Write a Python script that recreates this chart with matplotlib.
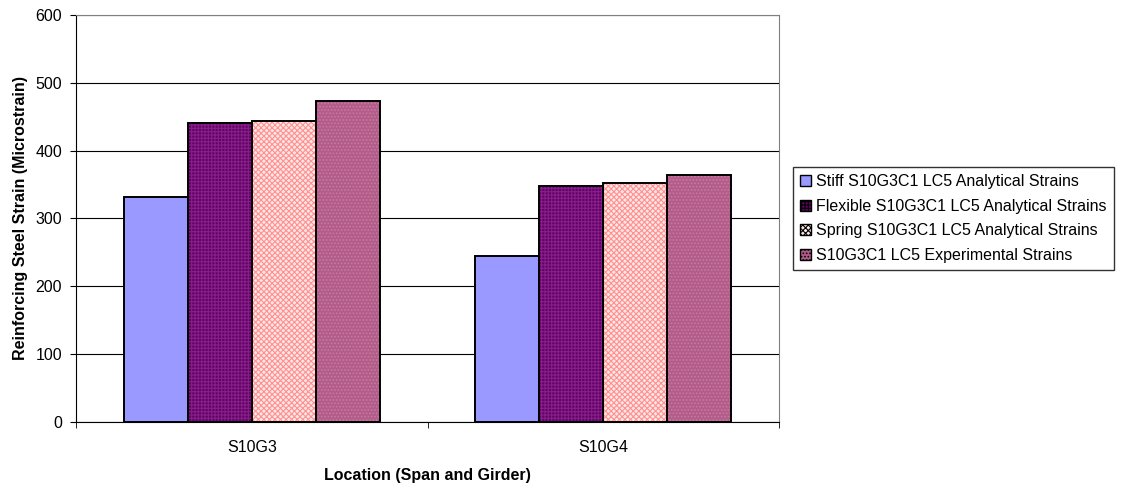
import numpy as np
import matplotlib.pyplot as plt

plt.rcParams['font.family'] = ['Liberation Sans', 'DejaVu Sans']
plt.rcParams['hatch.linewidth'] = 0.8

locations = ['S10G3', 'S10G4']
series = ['Stiff S10G3C1 LC5 Analytical Strains',
          'Flexible S10G3C1 LC5 Analytical Strains',
          'Spring S10G3C1 LC5 Analytical Strains',
          'S10G3C1 LC5 Experimental Strains']
stiff = [331, 245]
flexible = [441, 348]
spring = [443, 353]
experimental = [473, 364]

# face colour, hatch pattern, hatch colour
styles = [('#9999FF', None, None),
          ('#660066', '+++++', '#85208A'),
          ('#FFE6E6', 'xxxxxx', '#FF9090'),
          ('#B25C8A', '.....', '#C77AA0')]

fig = plt.figure(figsize=(11.23, 4.9), dpi=100)
ax = fig.add_axes([0.0677, 0.1388, 0.626, 0.8306])

x = np.arange(len(locations))
width = 0.182
handles = []
for i, (vals, (fc, hatch, hc)) in enumerate(zip([stiff, flexible, spring, experimental], styles)):
    pos = x + (i - 1.5) * width
    if hatch:
        ax.bar(pos, vals, width, color=fc, hatch=hatch, edgecolor=hc, linewidth=0, zorder=2)
    else:
        ax.bar(pos, vals, width, color=fc, linewidth=0, zorder=2)
    ax.bar(pos, vals, width, fill=False, edgecolor='black', linewidth=1.4, zorder=3)
    h = plt.Rectangle((0, 0), 1, 1, facecolor=fc, hatch=hatch, edgecolor='black', linewidth=1.0)
    handles.append(h)

ax.set_xlim(-0.5, 1.5)
ax.set_ylim(0, 600)
ax.set_yticks(range(0, 601, 100))
ax.set_xticks(x)
ax.set_xticklabels(locations, fontsize=11.5)
ax.set_xticks([-0.5, 0.5, 1.5], minor=True)
ax.tick_params(axis='x', which='major', length=0, pad=13)
ax.tick_params(axis='x', which='minor', length=4, color='black')
ax.tick_params(axis='y', labelsize=11.5, length=4, direction='out', pad=6)

ax.yaxis.grid(True, color='black', linewidth=0.8, zorder=0)
ax.set_axisbelow(True)
for side in ['top', 'right']:
    ax.spines[side].set_color('#808080')
for side in ['left', 'bottom']:
    ax.spines[side].set_color('black')

ax.set_ylabel('Reinforcing Steel Strain (Microstrain)', fontsize=11.5, fontweight='bold', labelpad=5)
ax.set_xlabel('Location (Span and Girder)', fontsize=11.5, fontweight='bold', labelpad=9)

fig.legend(handles, series, loc='upper left', bbox_to_anchor=(0.706, 0.659),
           fontsize=11.5, frameon=True, fancybox=False, edgecolor='black',
           handlelength=0.7, handleheight=0.7, handletextpad=0.3,
           borderpad=0.45, labelspacing=0.6, borderaxespad=0)

fig.savefig('out.png', dpi=100)
